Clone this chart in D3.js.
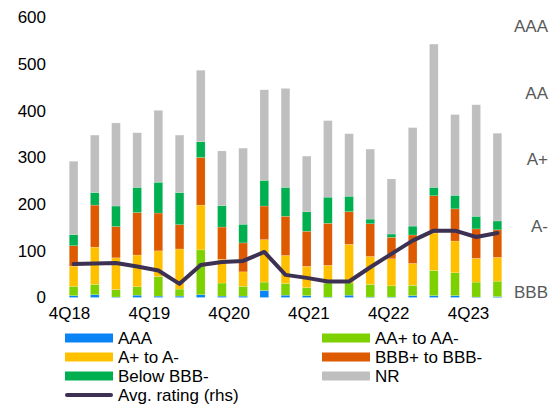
<!DOCTYPE html>
<html>
<head>
<meta charset="utf-8">
<script src="https://cdn.jsdelivr.net/npm/d3@7/dist/d3.min.js"></script>
<style>
  html, body { margin: 0; padding: 0; background: #ffffff; }
  svg { display: block; font-family: "Liberation Sans", Arial, sans-serif; }
</style>
</head>
<body>
<svg id="chart" width="555" height="405"></svg>
<script>
// ---- Data ----
const quarters = ["4Q18","1Q19","2Q19","3Q19","4Q19","1Q20","2Q20","3Q20","4Q20","1Q21","2Q21",
                  "3Q21","4Q21","1Q22","2Q22","3Q22","4Q22","1Q23","2Q23","3Q23","4Q23"];
const tickQuarters = ["4Q18","4Q19","4Q20","4Q21","4Q22","4Q23"];
const aaa      = [4, 6, 1, 5, 3, 3, 6, 3, 3, 15, 5, 4, 1, 5, 1, 1, 4, 4, 4, 1, 2];
const aaToAam  = [20, 22, 16, 18, 42, 15, 96, 28, 21, 18, 25, 17, 30, 26, 27, 24, 22, 54, 49, 32, 33];
const aToAm    = [43, 80, 68, 68, 55, 86, 96, 51, 31, 91, 60, 46, 38, 83, 60, 58, 47, 80, 68, 51, 51];
const bbbToBbbm= [44, 90, 67, 91, 81, 52, 102, 69, 62, 72, 84, 75, 90, 70, 70, 46, 61, 80, 69, 63, 59];
const belowBbb = [24, 27, 44, 54, 66, 69, 34, 46, 40, 55, 62, 42, 56, 33, 10, 7, 19, 18, 29, 27, 19];
const nr       = [157, 123, 178, 117, 154, 123, 153, 117, 163, 194, 212, 119, 164, 134, 150, 118, 211, 307, 173, 239, 188];
// Average rating in notches above BBB (BBB=0, A-=2, A+=4, AA=6, AAA=8)
const avgRating = [0.86, 0.87, 0.89, 0.78, 0.66, 0.26, 0.83, 0.92, 0.95, 1.22, 0.53,
                   0.44, 0.33, 0.33, 0.76, 1.16, 1.56, 1.86, 1.86, 1.67, 1.79];
const leftTicks = [0, 100, 200, 300, 400, 500, 600];
const ratingTickValues = [0, 2, 4, 6, 8];
const ratingTickLabels = ["BBB", "A-", "A+", "AA", "AAA"];
const seriesNames = ["AAA", "AA+ to AA-", "A+ to A-", "BBB+ to BBB-", "Below BBB-", "NR"];
const seriesColors = ["#0A84F5", "#7ED100", "#FFC000", "#DD5A00", "#00B050", "#BFBFBF"];
const lineName = "Avg. rating (rhs)";
const lineColor = "#3D3153";

// ---- Build table ----
const seriesValues = [aaa, aaToAam, aToAm, bbbToBbbm, belowBbb, nr];
const table = quarters.map((q, i) => {
  const row = { q };
  seriesNames.forEach((s, k) => row[s] = seriesValues[k][i]);
  return row;
});
const stacked = d3.stack().keys(seriesNames)(table);

const svg = d3.select("#chart");

// ---- Scales ----
const x = d3.scaleBand().domain(quarters).range([63, 508]).paddingInner(0.59).paddingOuter(0.295);
const xLabel = d3.scalePoint().domain(quarters).range([69, 468]);
const y = d3.scaleLinear().domain([0, 600]).range([297.5, 17.5]);
const yR = d3.scaleLinear().domain([0, 8]).range([292.5, 26.5]);
const color = d3.scaleOrdinal().domain(seriesNames).range(seriesColors);

// ---- Bars ----
svg.append("g").selectAll("g").data(stacked).join("g")
  .attr("fill", d => color(d.key))
  .selectAll("rect").data(d => d).join("rect")
  .attr("x", d => x(d.data.q))
  .attr("width", x.bandwidth())
  .attr("y", d => y(d[1]))
  .attr("height", d => Math.max(0, y(d[0]) - y(d[1])))
  .attr("stroke", "#ffffff")
  .attr("stroke-opacity", 0.35)
  .attr("stroke-width", 0.5);

// ---- Line ----
const line = d3.line()
  .x((d, i) => x(quarters[i]) + x.bandwidth() / 2)
  .y(d => yR(d));
svg.append("path").datum(avgRating)
  .attr("d", line)
  .attr("fill", "none")
  .attr("stroke", lineColor)
  .attr("stroke-width", 4)
  .attr("stroke-linejoin", "round")
  .attr("stroke-linecap", "round");

// ---- Left axis ----
const yAxis = d3.axisLeft(y).tickValues(leftTicks).tickSize(0).tickPadding(0);
const gy = svg.append("g").attr("transform", "translate(46,0)").call(yAxis);
gy.select(".domain").remove();
gy.selectAll("text").attr("font-size", 17).attr("fill", "#000").attr("font-family", "Liberation Sans, Arial, sans-serif");

// ---- Right axis ----
const yRAxis = d3.axisRight(yR).tickValues(ratingTickValues)
  .tickFormat((d, i) => ratingTickLabels[i]).tickSize(0).tickPadding(0);
const gyr = svg.append("g").attr("transform", "translate(548,0)").call(yRAxis);
gyr.select(".domain").remove();
gyr.selectAll("text").attr("font-size", 17).attr("fill", "#595959")
  .attr("text-anchor", "end").attr("font-family", "Liberation Sans, Arial, sans-serif");

// ---- X axis labels ----
const xAxis = d3.axisBottom(xLabel).tickValues(tickQuarters).tickSize(0).tickPadding(0);
const gx = svg.append("g").attr("transform", "translate(0,307)").call(xAxis);
gx.select(".domain").remove();
gx.selectAll("text").attr("font-size", 17).attr("fill", "#000").attr("font-family", "Liberation Sans, Arial, sans-serif");

// ---- Legend ----
const legendItems = seriesNames.map((s, i) => ({ name: s, color: seriesColors[i], type: "rect" }));
legendItems.push({ name: lineName, color: lineColor, type: "line" });
const colX = [65, 322];
const rowY = [338, 357, 376, 395];
const leg = svg.append("g");
legendItems.forEach((it, i) => {
  const cx = it.type === "line" ? colX[0] : colX[i % 2];
  const cy = it.type === "line" ? rowY[3] : rowY[Math.floor(i / 2)];
  if (it.type === "rect") {
    leg.append("rect").attr("x", cx).attr("y", cy - 4.5).attr("width", 48).attr("height", 9).attr("fill", it.color);
  } else {
    leg.append("line").attr("x1", cx + 2).attr("x2", cx + 46).attr("y1", cy).attr("y2", cy)
      .attr("stroke", it.color).attr("stroke-width", 4).attr("stroke-linecap", "round");
  }
  leg.append("text").attr("x", cx + 53).attr("y", cy).attr("dy", "0.35em")
    .attr("font-size", 17).attr("fill", "#000").text(it.name);
});
</script>
</body>
</html>
